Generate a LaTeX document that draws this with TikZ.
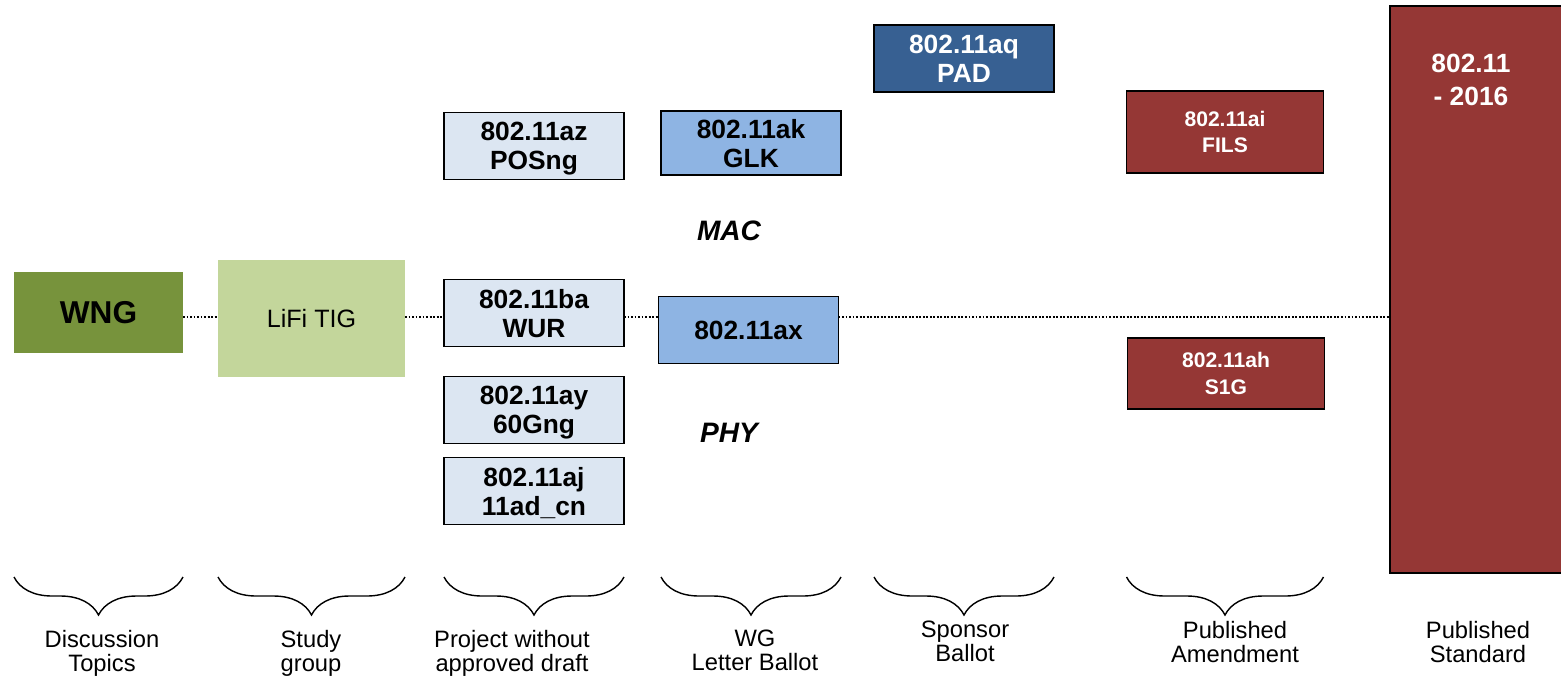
\documentclass[tikz,border=0pt]{standalone}
\usepackage{fontspec}
\setmainfont{Liberation Sans}
\usetikzlibrary{decorations.pathreplacing}

\definecolor{wnggreen}{HTML}{77933C}
\definecolor{tiggreen}{HTML}{C3D69B}
\definecolor{paleblue}{HTML}{DCE6F2}
\definecolor{midblue}{HTML}{8EB4E3}
\definecolor{darkblue}{HTML}{376092}
\definecolor{darkred}{HTML}{953735}

\begin{document}
\begin{tikzpicture}[x=0.02cm, y=-0.02cm,
	box/.style={draw=black, line width=0.8pt, align=center, inner sep=0pt, outer sep=0pt, text depth=0pt,
		minimum width=3.6cm, minimum height=1.34cm, font=\fontsize{15}{16.5}\selectfont\bfseries},
	draftbox/.style={box, fill=paleblue},
	ballotbox/.style={box, fill=midblue},
	sponsorbox/.style={box, fill=darkblue, text=white},
	amendbox/.style={box, fill=darkred, text=white, minimum width=3.94cm,
		font=\fontsize{12}{15}\selectfont\bfseries},
	layer/.style={font=\fontsize{16}{16}\selectfont\bfseries\itshape},
	stage/.style={align=center, inner sep=0pt, anchor=north, font=\fontsize{13.5}{13.7}\selectfont},
	brace/.style={decorate, decoration={brace, mirror, amplitude=0.76cm}, line width=0.8pt},
	link/.style={line width=0.7pt, dash pattern=on 1.1pt off 0.9pt}]

\useasboundingbox (0,0) rectangle (1561,677);
\coordinate (axis) at (0,317);
\coordinate (bracetop) at (0,577);

% discussion and study group
\node[box, draw=none, fill=wnggreen, minimum width=3.38cm, minimum height=1.62cm,
	font=\fontsize{18}{18}\selectfont\bfseries] (wng) at (98.5,312.5) {WNG};
\node[box, draw=none, fill=tiggreen, minimum width=3.74cm, minimum height=2.34cm,
	font=\fontsize{14.3}{14.3}\selectfont] (lifi) at (311.5,318.5) {LiFi TIG};

% projects
\node[draftbox] (az) at (534,146) {802.11az\\POSng};
\node[draftbox] (ba) at (534,313) {802.11ba\\WUR};
\node[draftbox] (ay) at (534,410) {802.11ay\\60Gng};
\node[draftbox] (aj) at (534,491) {802.11aj\\11ad\_cn};

\node[ballotbox, minimum height=1.28cm] (ak) at (751,143) {802.11ak\\GLK};
\node[ballotbox] (ax) at (748.5,330) {802.11ax};
\node[sponsorbox] (aq) at (964,58.5) {802.11aq\\PAD};

\node[amendbox, minimum height=1.64cm] (ai) at (1225,132) {802.11ai\\FILS};
\node[amendbox, minimum height=1.42cm] (ah) at (1226,373.5) {802.11ah\\S1G};

\node[box, fill=darkred, minimum width=3.46cm, minimum height=11.34cm] (std) at (1476.5,289.5) {};
\node[font=\fontsize{15}{18.8}\selectfont\bfseries, text=white, align=center, anchor=north,
	inner sep=0pt] (stdname) at (1471,54) {802.11\\- 2016};

\node[layer] (mac) at (729,231) {MAC};
\node[layer] (phy) at (729,433) {PHY};

% dotted line through the stages
\draw[link] (wng.east |- axis) -- (lifi.west |- axis);
\draw[link] (lifi.east |- axis) -- (ba.west |- axis);
\draw[link] (ba.east |- axis) -- (ax.west |- axis);
\draw[link] (ax.east |- axis) -- (std.west |- axis);

% braces and stage names
\foreach \col in {wng, lifi, az, ak, aq, ai}
\draw[brace] (\col.west |- bracetop) -- (\col.east |- bracetop);

\node[stage] (topics) at (102,630) {Discussion\\Topics};
\node[stage] (study) at (311,630) {Study\\group};
\node[stage] (project) at (512,630) {Project without\\approved draft};
\node[stage] (letter) at (755,630) {WG\\Letter Ballot};
\node[stage] (sponsor) at (965,621) {Sponsor\\Ballot};
\node[stage] (amend) at (1235,621) {Published\\Amendment};
\node[stage] (standard) at (1478,621) {Published\\Standard};

\end{tikzpicture}
\end{document}
